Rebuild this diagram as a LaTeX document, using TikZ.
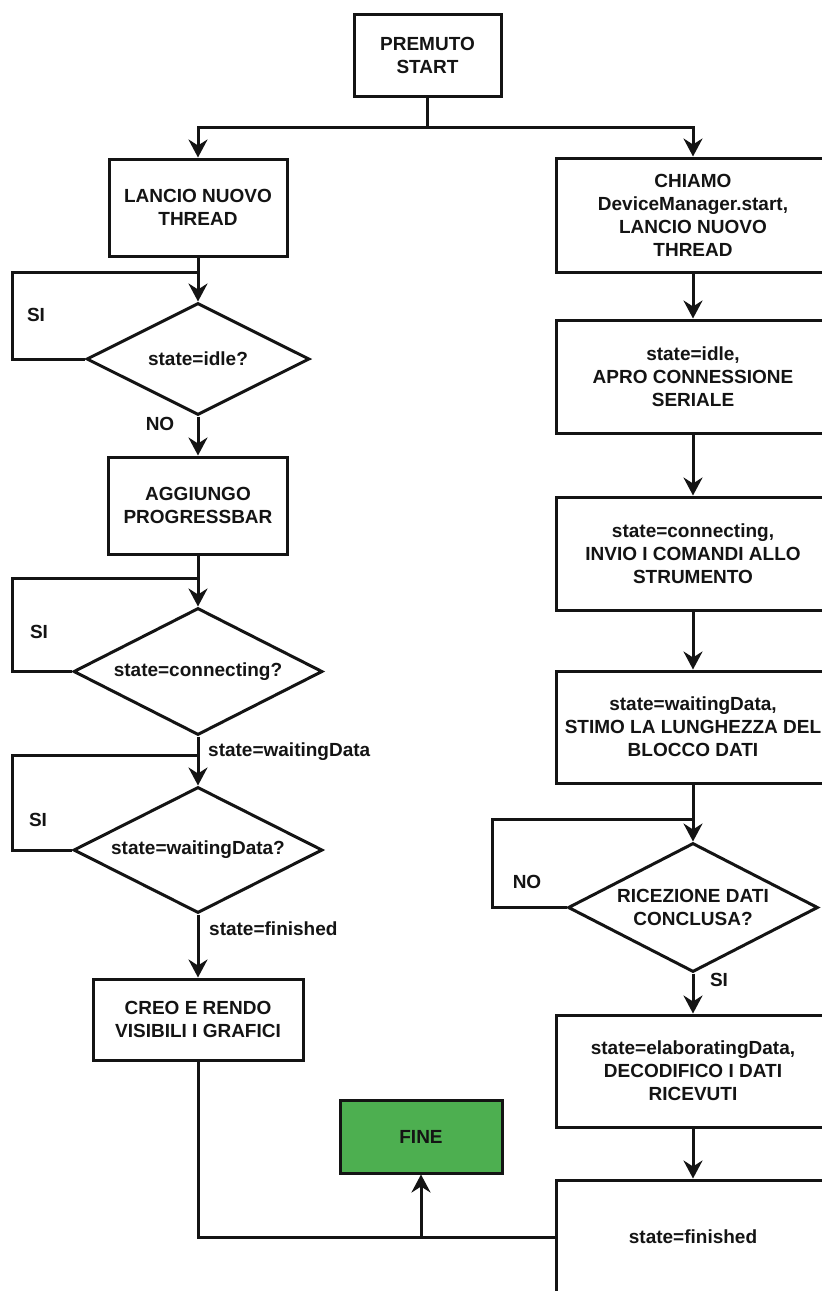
\documentclass[tikz,border=0pt]{standalone}
\usepackage{fontspec}
\setmainfont{Liberation Sans}
\usetikzlibrary{shapes.geometric,arrows.meta}
\definecolor{finegreen}{RGB}{77,175,80}
\definecolor{ink}{RGB}{20,20,20}
\newcommand{\flowfont}{\fontsize{19pt}{23pt}\selectfont\bfseries}
\tikzset{
  flowbox/.style={draw=ink, line width=3pt, rectangle, inner sep=0pt,
    align=center, font=\flowfont, text=ink},
  flowdec/.style={draw=ink, line width=3pt, diamond, shape aspect=2,
    inner sep=0pt, align=center, font=\flowfont, text=ink},
  flowlabel/.style={font=\flowfont, text=ink, inner sep=0pt},
  link/.style={draw=ink, line width=3pt},
  arr/.style={link, -{Stealth[length=18pt,width=19pt,inset=6pt]}},
  colbox/.style={flowbox, minimum width=274pt},
}
\begin{document}
\begin{tikzpicture}[x=1pt,y=-1pt]
\useasboundingbox (0,0) rectangle (822,1291);
\fill[white] (0,0) rectangle (822,1291);
\clip (0,0) rectangle (822,1291);

% start and the two branches
\node[flowbox, minimum width=147pt, minimum height=82pt] (start) at (427.5,55) {PREMUTO\\START};
\coordinate (split) at (427.5,127);

% left column: user interface thread
\node[flowbox, minimum width=178pt, minimum height=97pt] (lancio) at (198,207.5) {LANCIO NUOVO\\THREAD};
\node[flowdec, minimum width=223pt, minimum height=112pt] (d1) at (198,359) {state=idle?};
\node[flowbox, minimum width=179pt, minimum height=97pt] (aggiungo) at (198,505.5) {AGGIUNGO\\PROGRESSBAR};
\node[flowdec, minimum width=249pt, minimum height=127pt] (d2) at (198,671.5) {state=connecting?};
\node[flowdec, minimum width=249pt, minimum height=126pt] (d3) at (198,850) {state=waitingData?};
\node[flowbox, minimum width=210pt, minimum height=81pt] (creo) at (198,1019.5) {CREO E RENDO\\VISIBILI I GRAFICI};
\node[flowbox, fill=finegreen, minimum width=162pt, minimum height=73pt] (fine) at (421,1136.5) {FINE};

% right column: device manager thread
\node[colbox, minimum height=114pt] (chiamo) at (693,215) {CHIAMO\\DeviceManager.start,\\LANCIO NUOVO\\THREAD};
\node[colbox, minimum height=113pt] (idle) at (693,376.5) {state=idle,\\APRO CONNESSIONE\\SERIALE};
\node[colbox, minimum height=113pt] (conn) at (693,553.5) {state=connecting,\\INVIO I COMANDI ALLO\\STRUMENTO};
\node[colbox, minimum height=112pt] (wait) at (693,727) {state=waitingData,\\STIMO LA LUNGHEZZA DEL\\BLOCCO DATI};
\node[flowdec, minimum width=250pt, minimum height=129pt] (d4) at (693,907.5) {RICEZIONE DATI\\CONCLUSA?};
\node[colbox, minimum height=112pt] (elab) at (693,1071) {state=elaboratingData,\\DECODIFICO I DATI\\RICEVUTI};
\node[colbox, minimum height=114pt] (finished) at (693,1237) {state=finished};

% branch from start
\draw[link] (start.south) -- (split);
\draw[arr] (split) -| (lancio.north);
\draw[arr] (split) -| (chiamo.north);

% left column flow
\coordinate (j1) at (198,272);  \coordinate (l1) at (12,272);
\coordinate (j2) at (198,578);  \coordinate (l2) at (12,578);
\coordinate (j3) at (198,755);  \coordinate (l3) at (12,755);
\draw[arr] (lancio.south) -- (d1.north);
\draw[link] (d1.west) -| (l1) -- (j1);
\draw[arr] (d1.south) -- (aggiungo.north);
\draw[arr] (aggiungo.south) -- (d2.north);
\draw[link] (d2.west) -| (l2) -- (j2);
\draw[arr] (d2.south) -- (d3.north);
\draw[link] (d3.west) -| (l3) -- (j3);
\draw[arr] (d3.south) -- (creo.north);

\node[flowlabel] (si1) at (36,315) {SI};
\node[flowlabel] (no1) at (160,424) {NO};
\node[flowlabel] (si2) at (39,632) {SI};
\node[flowlabel, anchor=west] (lwait) at (208,752) {state=waitingData};
\node[flowlabel] (si3) at (38,820) {SI};
\node[flowlabel, anchor=west] (lfin) at (209,929) {state=finished};

% right column flow
\coordinate (j4) at (693,819);  \coordinate (l4) at (492,819);
\draw[arr] (chiamo.south) -- (idle.north);
\draw[arr] (idle.south) -- (conn.north);
\draw[arr] (conn.south) -- (wait.north);
\draw[arr] (wait.south) -- (d4.north);
\draw[link] (d4.west) -| (l4) -- (j4);
\draw[arr] (d4.south) -- (elab.north);
\draw[arr] (elab.south) -- (finished.north);
\node[flowlabel] (no4) at (527,882) {NO};
\node[flowlabel] (si4) at (719,980) {SI};

% both threads end in FINE
\draw[link] (creo.south) |- (finished.west);
\draw[arr] (fine.south |- finished.west) -- (fine.south);
\end{tikzpicture}
\end{document}
